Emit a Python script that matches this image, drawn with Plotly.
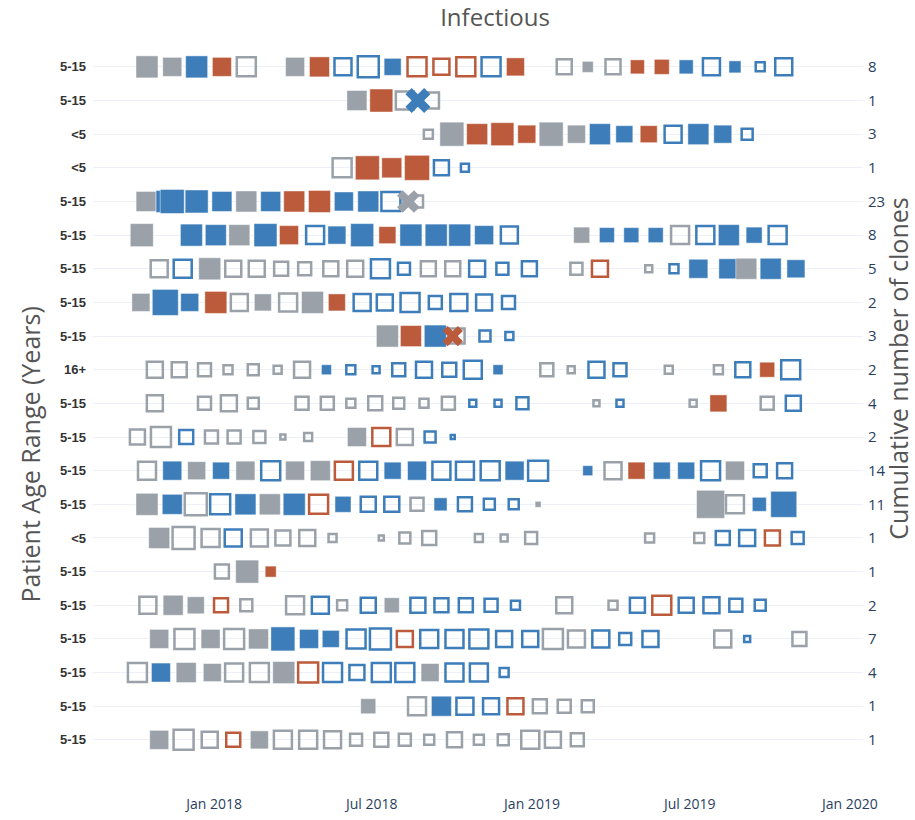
import plotly.graph_objects as go

# ---------------- data (rows listed top to bottom) ----------------
age_ranges = ["5-15", "5-15", "<5", "<5", "5-15", "5-15", "5-15", "5-15", "5-15", "16+",
              "5-15", "5-15", "5-15", "5-15", "<5", "5-15", "5-15", "5-15", "5-15", "5-15", "5-15"]
clone_counts = ["8", "1", "3", "1", "23", "8", "5", "2", "3", "2",
                "4", "2", "14", "11", "1", "1", "2", "7", "4", "1", "1"]

# kind codes: first letter colour (g=grey, b=blue, o=orange), second: F=filled, O=open, X=cross
p01 = [("2017-10-16", "gF", 22), ("2017-11-14", "gF", 19), ("2017-12-12", "bF", 22), ("2018-01-10", "oF", 19),
       ("2018-02-07", "gO", 19), ("2018-04-04", "gF", 19), ("2018-05-02", "oF", 20), ("2018-05-29", "bO", 17),
       ("2018-06-27", "bO", 21), ("2018-07-25", "bF", 17), ("2018-08-22", "oO", 19), ("2018-09-19", "oO", 16),
       ("2018-10-17", "oO", 19), ("2018-11-15", "bO", 19), ("2018-12-13", "oF", 18), ("2019-02-07", "gO", 15),
       ("2019-03-06", "gF", 11), ("2019-04-04", "gO", 15), ("2019-05-02", "oF", 14), ("2019-05-30", "oF", 15),
       ("2019-06-27", "bF", 14), ("2019-07-26", "bO", 17), ("2019-08-22", "bF", 12), ("2019-09-20", "bO", 9),
       ("2019-10-17", "bO", 17)]
p02 = [("2018-06-14", "gF", 20), ("2018-07-12", "oF", 23), ("2018-08-08", "gO", 18), ("2018-09-07", "gO", 16),
       ("2018-08-23", "bX", 22)]
p03 = [("2018-09-04", "gO", 9), ("2018-10-01", "gF", 24), ("2018-10-30", "oF", 21), ("2018-11-28", "oF", 23),
       ("2018-12-26", "oF", 18), ("2019-01-23", "gF", 24), ("2019-02-21", "gF", 18), ("2019-03-20", "bF", 21),
       ("2019-04-17", "bF", 17), ("2019-05-15", "oF", 17), ("2019-06-12", "bO", 17), ("2019-07-11", "bF", 21),
       ("2019-08-08", "bF", 18), ("2019-09-05", "bO", 11)]
p04 = [("2018-05-28", "gO", 19), ("2018-06-26", "oF", 24), ("2018-07-24", "oF", 20), ("2018-08-22", "oF", 25),
       ("2018-09-19", "bO", 15), ("2018-10-16", "bO", 8)]
p05 = [("2017-10-15", "gF", 20), ("2017-11-08", "bF", 22), ("2017-11-14", "bF", 24), ("2017-12-12", "bF", 23),
       ("2018-01-10", "bF", 20), ("2018-02-07", "gF", 21), ("2018-03-07", "bF", 20), ("2018-04-03", "oF", 21),
       ("2018-05-02", "oF", 22), ("2018-05-30", "bF", 19), ("2018-06-27", "bF", 21), ("2018-07-23", "bO", 19),
       ("2018-08-22", "gO", 12), ("2018-08-12", "gX", 20)]
p06 = [("2017-10-10", "gF", 23), ("2017-12-06", "bF", 22), ("2018-01-03", "bF", 21), ("2018-01-30", "gF", 21),
       ("2018-03-01", "bF", 23), ("2018-03-28", "oF", 19), ("2018-04-27", "bO", 18), ("2018-05-22", "bF", 18),
       ("2018-06-20", "bF", 23), ("2018-07-19", "oF", 17), ("2018-08-15", "bF", 22), ("2018-09-13", "bF", 22),
       ("2018-10-10", "bF", 22), ("2018-11-07", "bF", 19), ("2018-12-06", "bO", 17), ("2019-02-27", "gF", 16),
       ("2019-03-28", "bF", 15), ("2019-04-25", "bF", 15), ("2019-05-23", "bF", 15), ("2019-06-20", "gO", 18),
       ("2019-07-19", "bO", 18), ("2019-08-15", "bF", 21), ("2019-09-13", "bF", 16), ("2019-10-10", "bO", 18)]
p07 = [("2017-10-30", "gO", 17), ("2017-11-26", "bO", 18), ("2017-12-27", "gF", 22), ("2018-01-23", "gO", 16),
       ("2018-02-19", "gO", 16), ("2018-03-19", "gO", 14), ("2018-04-15", "gO", 13), ("2018-05-15", "gO", 15),
       ("2018-06-12", "gO", 16), ("2018-07-11", "bO", 19), ("2018-08-07", "bO", 12), ("2018-09-04", "gO", 15),
       ("2018-10-02", "gO", 15), ("2018-10-30", "bO", 16), ("2018-11-28", "bO", 12), ("2018-12-29", "bO", 15),
       ("2019-02-21", "gO", 12), ("2019-03-20", "oO", 16), ("2019-05-15", "gO", 7), ("2019-06-13", "bO", 9),
       ("2019-07-11", "bF", 19), ("2019-08-15", "bF", 20), ("2019-09-04", "gF", 21), ("2019-10-02", "bF", 21),
       ("2019-10-31", "bF", 18)]
p08 = [("2017-10-09", "gF", 18), ("2017-11-06", "bF", 26), ("2017-12-04", "bF", 18), ("2018-01-03", "oF", 22),
       ("2018-01-30", "gO", 17), ("2018-02-26", "gF", 17), ("2018-03-27", "gO", 18), ("2018-04-24", "gF", 22),
       ("2018-05-22", "oF", 17), ("2018-06-20", "bO", 17), ("2018-07-16", "bO", 16), ("2018-08-14", "bO", 19),
       ("2018-09-12", "bO", 13), ("2018-10-09", "bO", 17), ("2018-11-07", "bO", 16), ("2018-12-05", "bO", 13)]
p09 = [("2018-07-19", "gF", 22), ("2018-08-15", "oF", 21), ("2018-09-12", "bF", 22), ("2018-10-07", "gO", 15),
       ("2018-11-08", "bO", 11), ("2018-12-06", "bO", 8), ("2018-10-02", "oX", 18)]
p10 = [("2017-10-25", "gO", 16), ("2017-11-22", "gO", 15), ("2017-12-21", "gO", 13), ("2018-01-17", "gO", 9),
       ("2018-02-15", "gO", 11), ("2018-03-15", "gO", 8), ("2018-04-12", "gO", 16), ("2018-05-10", "bF", 10),
       ("2018-06-07", "bO", 9), ("2018-07-06", "bO", 7), ("2018-08-01", "bO", 13), ("2018-08-30", "bO", 16),
       ("2018-09-28", "bO", 14), ("2018-10-25", "bO", 18), ("2018-11-23", "bF", 10), ("2019-01-18", "gO", 13),
       ("2019-02-15", "gO", 7), ("2019-03-16", "bO", 16), ("2019-04-12", "bO", 13), ("2019-06-07", "gO", 8),
       ("2019-08-03", "gO", 9), ("2019-08-31", "bO", 15), ("2019-09-28", "oF", 15), ("2019-10-25", "bO", 19)]
p11 = [("2017-10-25", "gO", 16), ("2017-12-21", "gO", 13), ("2018-01-18", "gO", 16), ("2018-02-15", "gO", 11),
       ("2018-04-12", "gO", 13), ("2018-05-11", "gO", 13), ("2018-06-07", "gO", 9), ("2018-07-05", "gO", 14),
       ("2018-08-01", "gO", 11), ("2018-08-30", "gO", 9), ("2018-09-27", "gO", 13), ("2018-10-25", "bO", 7),
       ("2018-11-23", "bO", 7), ("2018-12-21", "bO", 12), ("2019-03-16", "gO", 6), ("2019-04-12", "bO", 7),
       ("2019-07-05", "gO", 7), ("2019-08-03", "oF", 17), ("2019-09-28", "gO", 13), ("2019-10-28", "bO", 15)]
p12 = [("2017-10-05", "gO", 15), ("2017-11-01", "gO", 20), ("2017-11-30", "bO", 14), ("2017-12-29", "gO", 13),
       ("2018-01-24", "gO", 13), ("2018-02-22", "gO", 12), ("2018-03-21", "gO", 5), ("2018-04-19", "gO", 8),
       ("2018-06-14", "gF", 19), ("2018-07-12", "oO", 18), ("2018-08-08", "gO", 16), ("2018-09-06", "bO", 11),
       ("2018-10-02", "bO", 4)]
p13 = [("2017-10-16", "gO", 18), ("2017-11-14", "bF", 19), ("2017-12-12", "gF", 18), ("2018-01-09", "bF", 17),
       ("2018-02-06", "gF", 19), ("2018-03-07", "bO", 19), ("2018-04-04", "gF", 19), ("2018-05-03", "gF", 20),
       ("2018-05-30", "oO", 18), ("2018-06-27", "bO", 18), ("2018-07-25", "bF", 17), ("2018-08-22", "bF", 19),
       ("2018-09-19", "bO", 18), ("2018-10-16", "bO", 18), ("2018-11-14", "bO", 19), ("2018-12-12", "bF", 19),
       ("2019-01-08", "bO", 20), ("2019-03-06", "bF", 10), ("2019-04-04", "gO", 17), ("2019-05-01", "oF", 17),
       ("2019-05-30", "bF", 17), ("2019-06-27", "bF", 17), ("2019-07-25", "bO", 19), ("2019-08-22", "gF", 19),
       ("2019-09-20", "bO", 13), ("2019-10-18", "bO", 15)]
p14 = [("2017-10-16", "gF", 22), ("2017-11-14", "bF", 20), ("2017-12-11", "gO", 22), ("2018-01-08", "bO", 20),
       ("2018-02-06", "bF", 21), ("2018-03-06", "gF", 21), ("2018-04-03", "bF", 22), ("2018-05-01", "oO", 19),
       ("2018-05-29", "bF", 16), ("2018-06-27", "bO", 15), ("2018-07-24", "bO", 15), ("2018-08-22", "gO", 13),
       ("2018-09-18", "bF", 13), ("2018-10-16", "bO", 14), ("2018-11-13", "bO", 11), ("2018-12-11", "bO", 10),
       ("2019-01-08", "gF", 6), ("2019-07-25", "gF", 28), ("2019-08-22", "gO", 18), ("2019-09-19", "bF", 14),
       ("2019-10-17", "bF", 26)]
p15 = [("2017-10-30", "gF", 21), ("2017-11-27", "gO", 22), ("2017-12-28", "gO", 18), ("2018-01-23", "bO", 17),
       ("2018-02-22", "gO", 17), ("2018-03-21", "gO", 15), ("2018-04-18", "gO", 16), ("2018-05-17", "gO", 8),
       ("2018-07-12", "gO", 5), ("2018-08-08", "gO", 11), ("2018-09-05", "gO", 14), ("2018-11-01", "gO", 8),
       ("2018-11-30", "gO", 7), ("2018-12-31", "gO", 12), ("2019-05-16", "gO", 9), ("2019-07-12", "gO", 10),
       ("2019-08-08", "bO", 14), ("2019-09-05", "bO", 16), ("2019-10-04", "oO", 15), ("2019-11-02", "bO", 12)]
p16 = [("2018-01-10", "gO", 14), ("2018-02-08", "gF", 23), ("2018-03-07", "oF", 11)]
p17 = [("2017-10-17", "gO", 17), ("2017-11-15", "gF", 20), ("2017-12-11", "gF", 17), ("2018-01-09", "oO", 14),
       ("2018-02-07", "gO", 12), ("2018-04-04", "gO", 18), ("2018-05-03", "bO", 17), ("2018-05-28", "gO", 10),
       ("2018-06-27", "bO", 15), ("2018-07-24", "gF", 15), ("2018-08-23", "bO", 15), ("2018-09-19", "bO", 14),
       ("2018-10-17", "bO", 14), ("2018-11-15", "bO", 13), ("2018-12-13", "bO", 9), ("2019-02-07", "gO", 16),
       ("2019-04-04", "gO", 9), ("2019-05-02", "bO", 15), ("2019-05-30", "oO", 19), ("2019-06-27", "bO", 15),
       ("2019-07-26", "bO", 16), ("2019-08-23", "bO", 13), ("2019-09-20", "bO", 11)]
p18 = [("2017-10-30", "gF", 19), ("2017-11-28", "gO", 20), ("2017-12-28", "gF", 19), ("2018-01-24", "gO", 20),
       ("2018-02-21", "gF", 20), ("2018-03-21", "bF", 24), ("2018-04-20", "bF", 19), ("2018-05-15", "bF", 17),
       ("2018-06-13", "bO", 19), ("2018-07-11", "bO", 21), ("2018-08-08", "oO", 16), ("2018-09-05", "bO", 18),
       ("2018-10-04", "bO", 18), ("2018-11-01", "bO", 19), ("2018-11-30", "bO", 16), ("2018-12-30", "bO", 16),
       ("2019-01-25", "gO", 20), ("2019-02-21", "gO", 17), ("2019-03-21", "bO", 17), ("2019-04-18", "bO", 12),
       ("2019-05-17", "bO", 16), ("2019-08-08", "gO", 17), ("2019-09-05", "bO", 6), ("2019-11-04", "gO", 14)]
p19 = [("2017-10-05", "gO", 19), ("2017-11-01", "bF", 19), ("2017-11-30", "gF", 20), ("2017-12-30", "gF", 18),
       ("2018-01-24", "gO", 18), ("2018-02-22", "gO", 19), ("2018-03-22", "gF", 22), ("2018-04-19", "oO", 20),
       ("2018-05-17", "bO", 19), ("2018-06-14", "bO", 15), ("2018-07-12", "bO", 19), ("2018-08-08", "bO", 19),
       ("2018-09-06", "gF", 18), ("2018-10-04", "bO", 18), ("2018-11-01", "bO", 18), ("2018-11-30", "bO", 9)]
p20 = [("2018-06-27", "gF", 15), ("2018-08-22", "gO", 18), ("2018-09-19", "bF", 20), ("2018-10-16", "bO", 17),
       ("2018-11-15", "bO", 16), ("2018-12-13", "oO", 16), ("2019-01-10", "gO", 14), ("2019-02-07", "gO", 13),
       ("2019-03-06", "gO", 12)]
p21 = [("2017-10-30", "gF", 19), ("2017-11-27", "gO", 20), ("2017-12-27", "gO", 16), ("2018-01-23", "oO", 14),
       ("2018-02-22", "gF", 18), ("2018-03-21", "gO", 18), ("2018-04-19", "gO", 18), ("2018-05-17", "gO", 17),
       ("2018-06-13", "gO", 12), ("2018-07-12", "gO", 14), ("2018-08-08", "gO", 12), ("2018-09-05", "gO", 10),
       ("2018-10-04", "gO", 15), ("2018-11-01", "gO", 10), ("2018-11-29", "gO", 11), ("2018-12-30", "gO", 18),
       ("2019-01-25", "gO", 16), ("2019-02-22", "gO", 13)]

patients = [p01, p02, p03, p04, p05, p06, p07, p08, p09, p10, p11,
            p12, p13, p14, p15, p16, p17, p18, p19, p20, p21]

# ---------------- styling ----------------
COLORS = {"g": "#9aa1a9", "b": "#3d7eba", "o": "#bb5b3c"}
SYMBOLS = {"F": "square", "O": "square-open", "X": "x"}
LINEW = {"F": 1, "O": 2.5, "X": 0}

n = len(patients)
fig = go.Figure()
for i, visits in enumerate(patients):
    yv = n - 1 - i
    dates = [v[0] for v in visits]
    kinds = [v[1] for v in visits]
    sizes = [v[2] for v in visits]
    fig.add_trace(go.Scatter(
        x=dates, y=[yv] * len(visits), mode="markers", showlegend=False,
        marker=dict(
            symbol=[SYMBOLS[k[1]] for k in kinds],
            color=[COLORS[k[0]] for k in kinds],
            size=sizes,
            opacity=1,
            line=dict(width=[LINEW[k[1]] for k in kinds],
                      color=["rgba(255,255,255,0.45)" if k[1] == "F" else COLORS[k[0]] for k in kinds]),
        ),
        hoverinfo="x",
    ))

# invisible trace so the right-hand axis is drawn
fig.add_trace(go.Scatter(x=[p01[0][0]], y=[0], yaxis="y2", mode="markers",
                         marker=dict(opacity=0), showlegend=False, hoverinfo="skip"))

yrange = [-1.49, 20.65]
tickvals = list(range(n))
fig.update_layout(
    width=915, height=820,
    margin=dict(l=93, r=52, t=45, b=30),
    paper_bgcolor="white", plot_bgcolor="white",
    font=dict(family="Open Sans", color="#2a3f5f"),
    title=dict(text="Infectious", x=0.541, xanchor="center", y=0.978, yanchor="middle",
               font=dict(size=24, color="#555555")),
    xaxis=dict(type="date", range=["2017-08-15", "2020-01-16"], showgrid=False, zeroline=False,
               tickformat="%b %Y", dtick="M6", tick0="2018-01-01", automargin=False,
               ticklabelstandoff=4, tickfont=dict(size=14, color="#2a3f5f")),
    yaxis=dict(range=yrange, tickvals=tickvals, ticktext=age_ranges[::-1],
               showgrid=True, gridcolor="#edf1f7", gridwidth=1, zeroline=False,
               tickfont=dict(family="Arial", size=13, color="#333333", weight="bold"),
               ticklabelstandoff=6),
    yaxis2=dict(range=yrange, tickvals=tickvals, ticktext=clone_counts[::-1],
                overlaying="y", side="right", showgrid=False, zeroline=False,
                tickfont=dict(size=15, color="#2a3f5f"), ticklabelstandoff=4),
    annotations=[
        dict(text="Patient Age Range (Years)", textangle=-90, xref="paper", yref="paper",
             x=-0.082, y=0.45, xanchor="center", yanchor="middle", showarrow=False,
             font=dict(size=25, color="#555555")),
        dict(text="Cumulative number of clones", textangle=-90, xref="paper", yref="paper",
             x=1.045, y=0.565, xanchor="center", yanchor="middle", showarrow=False,
             font=dict(size=25, color="#555555")),
    ],
)

fig.write_html("out.html", config={"displayModeBar": False},
               post_script="document.body.style.margin='0';")
